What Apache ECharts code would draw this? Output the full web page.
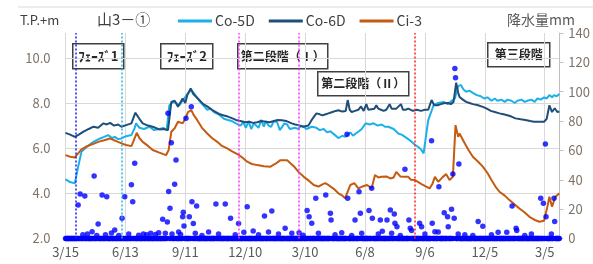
<!DOCTYPE html>
<html>
<head>
<meta charset="utf-8">
<script src="https://cdn.jsdelivr.net/npm/echarts@6/dist/echarts.min.js"></script>
<style>
  html, body { margin: 0; padding: 0; background: #fff; }
  #chart { width: 593px; height: 264px; }
</style>
</head>
<body>
<div id="chart"></div>
<script>
// x is days since 3/15 of the first year; ticks every 90 days
const tickLabels = ['3/15', '6/13', '9/11', '12/10', '3/10', '6/8', '9/6', '12/5', '3/5']
const lastDay = 742

// groundwater level T.P.+m, [day, value]
const co5d = [
  [0, 4.62], [7, 4.5], [14, 4.44], [17, 4.5], [19, 5.18], [24, 5.84], [32, 6.06], [42, 6.28], [52, 6.43],
  [58, 6.5], [64, 6.58], [70, 6.45], [74, 6.5], [79, 6.4], [84, 6.43], [91, 6.53], [99, 6.58], [104, 6.9],
  [106, 7.1], [111, 6.9], [118, 6.85], [126, 6.95], [133, 6.8], [141, 6.85], [147, 6.9], [152, 6.8],
  [156, 7.9], [160, 8.0], [164, 8.05], [171, 7.9], [176, 8.1], [179, 8.15], [183, 8.4], [189, 8.57],
  [194, 8.4], [201, 8.1], [207, 7.9], [213, 7.7], [218, 7.75], [223, 7.6], [230, 7.5], [238, 7.3],
  [244, 7.25], [250, 7.2], [256, 7.1], [263, 7.0], [267, 7.15], [271, 6.9], [275, 7.2], [279, 6.85],
  [283, 7.1], [286, 7.15], [290, 6.9], [294, 7.25], [298, 6.95], [301, 7.2], [305, 7.0], [309, 6.95],
  [313, 7.2], [318, 7.15], [322, 6.8], [325, 6.75], [329, 7.1], [333, 7.05], [337, 6.85], [340, 6.8],
  [345, 6.9], [350, 6.85], [354, 7.0], [358, 6.95], [362, 6.85], [365, 6.8], [370, 6.95], [377, 6.9],
  [382, 6.8], [388, 6.85], [393, 6.7], [398, 6.75], [404, 6.6], [410, 6.45], [416, 6.55], [421, 6.5],
  [428, 6.7], [432, 6.55], [436, 6.65], [441, 6.75], [445, 6.85], [451, 7.1], [457, 7.05], [463, 7.1],
  [469, 7.0], [475, 7.05], [480, 6.95], [485, 6.95], [493, 6.85], [500, 6.65], [505, 6.6], [510, 6.5],
  [515, 6.4], [520, 6.28], [525, 6.15], [530, 6.05], [534, 5.95], [538, 5.77], [545, 7.24], [553, 7.9],
  [560, 8.0], [568, 8.05], [574, 7.95], [579, 8.07], [585, 8.2], [590, 8.75], [594, 8.8], [598, 8.6],
  [602, 8.5], [607, 8.55], [612, 8.45], [618, 8.35], [624, 8.3], [629, 8.2], [634, 8.25], [640, 8.1],
  [645, 8.2], [649, 8.1], [655, 8.15], [660, 8.05], [664, 8.15], [670, 8.1], [675, 8.0], [679, 8.1],
  [685, 8.15], [690, 8.05], [694, 8.1], [700, 8.15], [705, 8.05], [709, 8.2], [714, 8.15], [719, 8.25],
  [723, 8.2], [727, 8.35], [731, 8.25], [734, 8.35], [738, 8.3], [742, 8.4]
]
const co6d = [
  [0, 6.68], [7, 6.6], [14, 6.5], [20, 6.6], [27, 6.73], [35, 6.85], [42, 6.95], [49, 6.9], [57, 7.1],
  [62, 7.05], [67, 7.12], [73, 7.0], [79, 7.05], [84, 6.95], [91, 7.02], [99, 7.1], [105, 7.57],
  [111, 7.3], [116, 7.1], [124, 7.0], [131, 6.95], [141, 6.83], [148, 6.85], [154, 6.8], [159, 8.05],
  [164, 8.1], [169, 7.83], [176, 8.2], [180, 8.0], [183, 8.35], [188, 8.65], [192, 8.4], [201, 8.13],
  [207, 7.95], [213, 7.85], [220, 7.7], [226, 7.6], [232, 7.5], [238, 7.45], [244, 7.4], [250, 7.33],
  [256, 7.25], [263, 7.2], [270, 7.15], [276, 7.17], [282, 7.12], [288, 7.15], [294, 7.2], [301, 7.17],
  [307, 7.15], [313, 7.2], [319, 7.25], [325, 7.24], [332, 7.2], [340, 7.1], [345, 7.05], [350, 7.02],
  [357, 6.95], [365, 7.0], [371, 7.3], [377, 7.54], [382, 7.5], [386, 7.45], [391, 7.5], [395, 7.54],
  [401, 7.6], [406, 7.65], [410, 7.68], [416, 7.62], [421, 7.65], [424, 8.13], [427, 7.7], [430, 7.6],
  [435, 7.65], [440, 7.7], [444, 7.85], [448, 7.65], [452, 7.95], [455, 7.7], [458, 7.65], [464, 7.75],
  [467, 7.9], [470, 7.75], [474, 7.7], [478, 7.65], [482, 7.7], [487, 7.95], [490, 7.75], [493, 7.7],
  [497, 7.75], [500, 7.75], [504, 7.95], [507, 7.7], [511, 7.7], [515, 7.75], [518, 7.7], [522, 7.65],
  [528, 7.7], [534, 7.65], [540, 7.7], [545, 7.7], [550, 8.13], [554, 7.9], [559, 7.9], [564, 7.95],
  [570, 8.0], [575, 8.0], [579, 7.95], [583, 8.05], [587, 8.9], [590, 8.45], [592, 8.27], [597, 8.15],
  [602, 8.05], [607, 8.0], [612, 7.95], [620, 7.9], [627, 7.83], [633, 7.75], [639, 7.65], [645, 7.6],
  [652, 7.54], [658, 7.5], [664, 7.46], [670, 7.4], [676, 7.32], [684, 7.28], [691, 7.25], [698, 7.2],
  [704, 7.17], [712, 7.17], [719, 7.17], [723, 7.3], [727, 7.9], [731, 7.6], [735, 7.77], [739, 7.6],
  [742, 7.62]
]
const ci3 = [
  [0, 5.69], [7, 5.62], [14, 5.59], [17, 5.55], [24, 5.95], [30, 6.05], [37, 6.14], [43, 6.2], [49, 6.28],
  [58, 6.35], [67, 6.43], [73, 6.35], [79, 6.28], [85, 6.2], [91, 6.14], [99, 6.09], [102, 6.3],
  [107, 6.68], [111, 6.45], [116, 6.28], [124, 6.1], [131, 5.92], [141, 5.8], [151, 5.69], [155, 5.92],
  [159, 6.73], [164, 6.88], [169, 7.17], [176, 7.1], [180, 7.3], [184, 7.6], [189, 7.68], [193, 7.45],
  [198, 7.24], [205, 6.9], [213, 6.65], [220, 6.45], [228, 6.28], [235, 6.1], [243, 5.99], [251, 5.85],
  [261, 5.69], [267, 5.55], [273, 5.4], [280, 5.3], [288, 5.25], [298, 5.2], [308, 5.18], [315, 5.3],
  [323, 5.47], [333, 5.47], [343, 5.2], [350, 4.95], [358, 4.73], [366, 4.55], [373, 4.37], [380, 4.3],
  [386, 4.4], [390, 4.45], [395, 4.37], [403, 4.2], [410, 4.0], [416, 3.9], [420, 3.78], [428, 4.37],
  [434, 4.45], [440, 4.22], [446, 4.3], [453, 4.37], [460, 4.22], [465, 4.81], [470, 4.7], [475, 4.73],
  [482, 4.75], [488, 4.66], [493, 4.7], [497, 4.95], [503, 4.75], [508, 4.73], [515, 4.73], [519, 4.6],
  [525, 4.59], [530, 4.5], [537, 4.37], [547, 4.22], [551, 4.4], [555, 4.73], [560, 4.51], [567, 4.73],
  [572, 4.85], [577, 4.59], [582, 4.73], [586, 7.02], [590, 6.5], [592, 6.65], [600, 6.21], [606, 5.9],
  [612, 5.62], [620, 5.4], [627, 5.18], [634, 4.9], [640, 4.59], [646, 4.3], [652, 4.07], [660, 3.9],
  [667, 3.7], [675, 3.5], [682, 3.33], [690, 3.15], [697, 2.96], [705, 2.82], [712, 2.74], [719, 2.79],
  [724, 3.41], [727, 3.85], [731, 3.41], [736, 3.85], [740, 3.95], [742, 4.0]
]

// daily rainfall mm, [day, mm]; every day not listed had no rain
const rain = [
  [19, 22.8], [22, 30.3], [26, 2.5], [29, 29], [33, 3], [40, 4.6], [43, 42.6], [47, 2], [49, 9.9],
  [55, 29.6], [60, 2.5], [62, 28.5], [69, 3.7], [74, 5.8], [80, 2], [85, 13.8], [89, 28.5], [95, 3],
  [99, 36.7], [101, 25.1], [104, 51.2], [110, 2.2], [117, 3], [122, 2.5], [128, 3.5], [135, 2.7],
  [140, 4], [146, 13.1], [150, 3.5], [153, 11.2], [154, 85.3], [155, 32.1], [157, 20.6], [159, 65.2],
  [160, 3], [164, 36.9], [166, 53.5], [170, 4.5], [173, 2.8], [176, 14.9], [177, 17.8], [178, 8.5],
  [181, 81.9], [186, 14.9], [189, 89.8], [190, 25.1], [192, 10.3], [195, 3.5], [197, 22.1], [205, 2],
  [215, 4.5], [226, 23.5], [230, 3], [240, 23.5], [248, 13.8], [255, 2.5], [260, 10.3], [268, 4.2],
  [273, 21.7], [282, 5.1], [290, 2.5], [299, 15.3], [305, 4.5], [310, 18.7], [320, 3], [330, 6.9],
  [340, 3.5], [351, 4], [357, 2.2], [363, 19], [366, 14.9], [370, 10.4], [376, 27.4], [380, 3.5],
  [391, 29.6], [398, 17.2], [399, 12.6], [405, 2.5], [415, 4], [423, 71], [424, 27.4], [430, 2],
  [435, 12.6], [441, 31.9], [443, 17.2], [445, 3.5], [456, 19], [460, 34.2], [461, 13.8], [470, 3],
  [473, 12.6], [476, 5], [483, 12.6], [488, 19.4], [490, 3.5], [494, 16.7], [495, 10.4], [498, 8],
  [503, 2], [510, 47.1], [516, 12.6], [518, 7], [520, 5.5], [532, 10.4], [535, 8], [540, 3],
  [550, 66.6], [551, 10.4], [555, 4.6], [560, 4.5], [561, 35.3], [569, 17.6], [574, 14.9], [575, 8],
  [580, 19.9], [582, 43.9], [584, 13.8], [585, 115.9], [586, 109.5], [590, 3], [591, 50.7], [600, 2.5],
  [612, 2], [620, 11.5], [627, 8.4], [640, 2.5], [650, 4.2], [663, 4.2], [671, 22.1], [677, 7],
  [678, 5.5], [690, 2], [700, 3], [714, 27.4], [718, 24], [721, 64.4], [722, 14.9], [730, 3],
  [734, 27.4], [735, 11.5]
]

// stage boundaries (day) and their line colours
const phaseDays = [16, 84, 261, 351, 524]
const phaseColors = ['#1a1aff', '#1fb4e8', '#ff33ff', '#ff33ff', '#ff2020']

const notes = [
  { text: 'ﾌｪｰｽﾞ1', x: 72, y: 43, w: 51, h: 25, size: 13 },
  { text: 'ﾌｪｰｽﾞ2', x: 160, y: 43, w: 52, h: 25, size: 13 },
  { text: '第二段階（Ⅰ）', x: 237, y: 43, w: 90, h: 25, size: 12 },
  { text: '第二段階（Ⅱ）', x: 317, y: 71, w: 91, h: 24, size: 12 },
  { text: '第三段階', x: 487, y: 42, w: 62, h: 24, size: 12 }
]

const rainDays = new Set(rain.map(r => r[0]))
const dryDays = []
for (let d = 0; d <= lastDay; d++) if (!rainDays.has(d)) dryDays.push([d, 0])

const font = '"Noto Sans CJK JP", "Noto Sans", sans-serif'

const chart = echarts.init(document.getElementById('chart'), null, { renderer: 'canvas' })

chart.setOption({
  animation: false,
  backgroundColor: '#fff',
  textStyle: { fontFamily: font },
  grid: { left: 65.5, right: 31, top: 33, bottom: 25.5 },
  legend: {
    data: ['Co-5D', 'Co-6D', 'Ci-3'],
    left: 178, top: 14,
    padding: 0,
    itemWidth: 34, itemHeight: 3, itemGap: 14,
    icon: 'rect',
    textStyle: { fontFamily: font, fontSize: 14, color: '#404040', padding: [0, 0, 0, -2] }
  },
  xAxis: {
    type: 'value',
    min: 0, max: lastDay, interval: 90,
    axisLine: { show: true, lineStyle: { color: '#d9d9d9' } },
    axisTick: { show: false },
    splitLine: { show: true, showMaxLine: false, lineStyle: { color: '#d9d9d9' } },
    axisLabel: {
      showMaxLabel: false,
      margin: 7,
      fontSize: 13, color: '#595959', fontFamily: font,
      formatter: v => (v % 90 === 0 ? tickLabels[v / 90] || '' : '')
    }
  },
  yAxis: [
    {
      type: 'value', min: 2, max: 11.1, interval: 2,
      axisLine: { show: false }, axisTick: { show: false },
      splitLine: { showMaxLine: false, lineStyle: { color: '#d9d9d9' } },
      axisLabel: {
        showMaxLabel: false, margin: 15,
        fontSize: 13, color: '#7f7368', fontFamily: font,
        formatter: v => v.toFixed(1)
      }
    },
    {
      type: 'value', min: 0, max: 140, interval: 20, position: 'right',
      axisLine: { show: true, lineStyle: { color: '#bfbfbf' } },
      axisTick: { show: true, length: 4, lineStyle: { color: '#bfbfbf' } },
      splitLine: { show: false },
      axisLabel: { margin: 9, fontSize: 13, color: '#7f7368', fontFamily: font }
    }
  ],
  series: [
    {
      name: 'rain0', type: 'scatter', yAxisIndex: 1, data: dryDays,
      symbolSize: 5.5, itemStyle: { color: '#0000ff' }, z: 3, silent: true
    },
    {
      name: 'rain', type: 'scatter', yAxisIndex: 1, data: rain,
      symbolSize: 5.5, itemStyle: { color: '#0000ff' }, z: 4, silent: true
    },
    {
      name: 'Co-5D', type: 'line', data: co5d, showSymbol: false,
      lineStyle: { color: '#1cb0ea', width: 2 }, itemStyle: { color: '#1cb0ea' }, z: 3
    },
    {
      name: 'Co-6D', type: 'line', data: co6d, showSymbol: false,
      lineStyle: { color: '#1f4e79', width: 2 }, itemStyle: { color: '#1f4e79' }, z: 3
    },
    {
      name: 'Ci-3', type: 'line', data: ci3, showSymbol: false,
      lineStyle: { color: '#c55a11', width: 2 }, itemStyle: { color: '#c55a11' }, z: 3,
      markLine: {
        silent: true, symbol: 'none', label: { show: false },
        data: phaseDays.map((d, i) => ({
          xAxis: d,
          lineStyle: { color: phaseColors[i], type: [2, 2], width: 1.5 }
        }))
      }
    }
  ],
  graphic: [
    { type: 'line', shape: { x1: 18, y1: 7, x2: 593, y2: 7 }, style: { stroke: '#d9d9d9', lineWidth: 1 } },
    { type: 'text', left: 20, top: 14, style: { text: 'T.P.+m', font: '13px ' + font, fill: '#404040' } },
    { type: 'text', left: 97, top: 12, style: { text: '山3－①', font: '15px ' + font, fill: '#404040' } },
    { type: 'text', left: 507, top: 13, style: { text: '降水量mm', font: '14px ' + font, fill: '#595959' } },
    ...notes.map(n => ({
      type: 'group', left: n.x, top: n.y, z: 1,
      children: [
        { type: 'rect', shape: { x: 0, y: 0, width: n.w, height: n.h },
          style: { fill: '#fff', stroke: '#404040', lineWidth: 1.5 } },
        { type: 'text', x: n.w / 2, y: n.h / 2,
          style: { text: n.text, font: 'bold ' + n.size + 'px ' + font, fill: '#262626', align: 'center', verticalAlign: 'middle' } }
      ]
    }))
  ]
})
</script>
</body>
</html>
